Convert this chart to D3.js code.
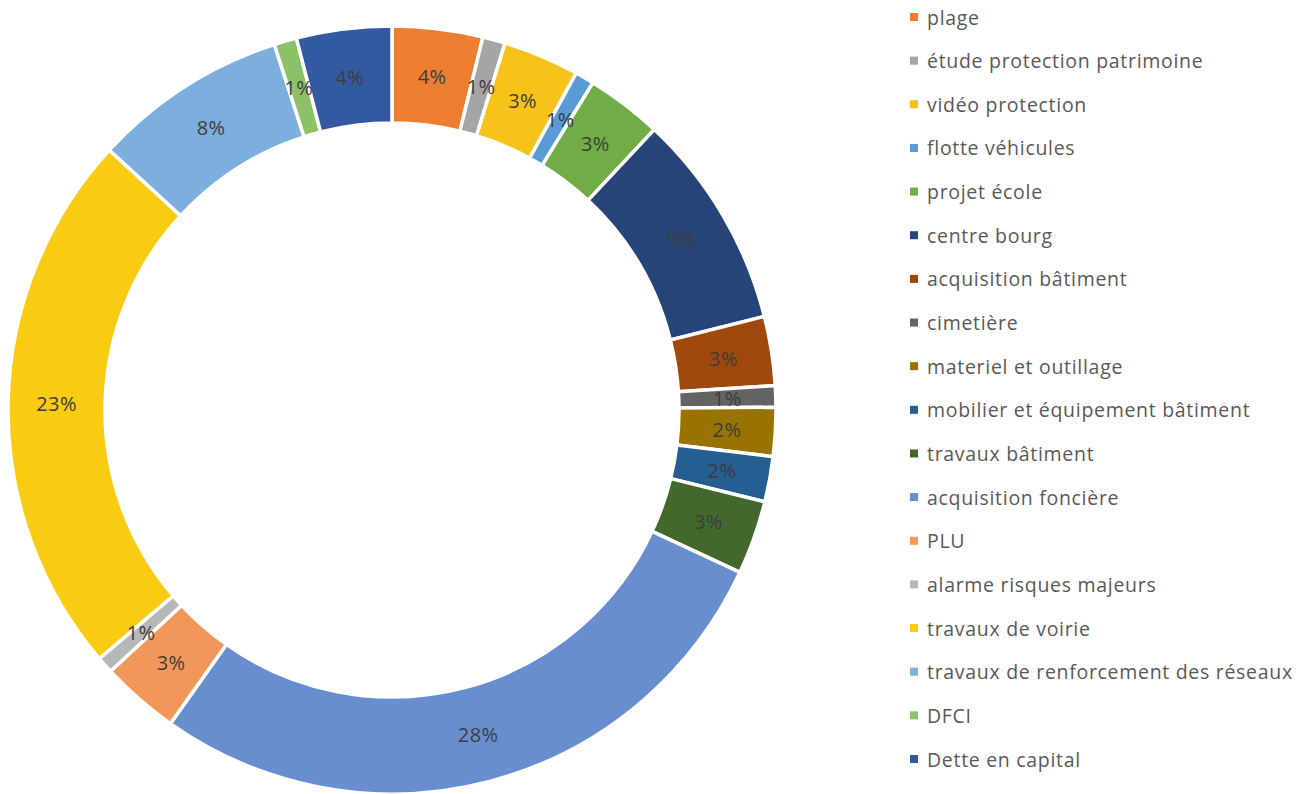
<!DOCTYPE html>
<html>
<head>
<meta charset="utf-8">
<script src="https://cdn.jsdelivr.net/npm/d3@7"></script>
<style>
  body { margin: 0; background: #fff; }
  svg { display: block; font-family: "Open Sans", "Liberation Sans", sans-serif; }
</style>
</head>
<body>
<svg id="chart" width="1302" height="794"></svg>
<script>
// categories, clockwise from 12 o'clock
const categories = [
  "plage", "étude protection patrimoine", "vidéo protection", "flotte véhicules",
  "projet école", "centre bourg", "acquisition bâtiment", "cimetière",
  "materiel et outillage", "mobilier et équipement bâtiment", "travaux bâtiment",
  "acquisition foncière", "PLU", "alarme risques majeurs", "travaux de voirie",
  "travaux de renforcement des réseaux", "DFCI", "Dette en capital"
];
// shares in percent, read from the ring
const values = [3.8, 0.95, 3.2, 0.8, 3.2, 9.1, 2.9, 0.9, 2.05, 1.9, 3.1, 27.8, 3.3, 0.7, 23.0, 8.2, 0.95, 4.0];
// labels as printed on the slices
const labels = ["4%", "1%", "3%", "1%", "3%", "9%", "3%", "1%", "2%", "2%", "3%", "28%", "3%", "1%", "23%", "8%", "1%", "4%"];
const colors = [
  "#ed7d31", "#a5a5a5", "#f7c31a", "#5b9bd5", "#70ad47", "#264478", "#9e480e", "#636363",
  "#997300", "#255e91", "#43682b", "#698ed0", "#f1975a", "#b7b7b7", "#f9cb12", "#7cafdd",
  "#8cc168", "#335aa1"
];

const svg = d3.select('#chart');

const cx = 392, cy = 410;
const outerR = 384, innerR = 287;

const color = d3.scaleOrdinal().domain(categories).range(colors);

const pie = d3.pie().sort(null).value(d => d.value);
const data = categories.map((c, i) => ({ name: c, value: values[i], label: labels[i] }));
const arcs = pie(data);

const arc = d3.arc().innerRadius(innerR).outerRadius(outerR);
const labelArc = d3.arc().innerRadius((innerR + outerR) / 2).outerRadius((innerR + outerR) / 2);

const g = svg.append('g').attr('transform', `translate(${cx},${cy})`);

g.selectAll('path').data(arcs)
  .enter().append('path')
  .attr('d', arc)
  .attr('fill', d => color(d.data.name))
  .attr('stroke', '#fff')
  .attr('stroke-width', 3.5);

g.selectAll('text').data(arcs)
  .enter().append('text')
  .attr('transform', d => `translate(${labelArc.centroid(d)})`)
  .attr('text-anchor', 'middle')
  .attr('dominant-baseline', 'central')
  .attr('font-size', 20)
  .attr('letter-spacing', 0.4)
  .attr('fill', '#3d3d3d')
  .text(d => d.data.label);

// legend
const legendY = d3.scalePoint().domain(categories).range([17, 759]);

const legend = svg.append('g');
const items = legend.selectAll('g').data(categories)
  .enter().append('g')
  .attr('transform', d => `translate(910,${legendY(d)})`);

items.append('rect')
  .attr('x', 0).attr('y', -4)
  .attr('width', 8).attr('height', 8)
  .attr('fill', d => color(d));

items.append('text')
  .attr('x', 17)
  .attr('dominant-baseline', 'central')
  .attr('font-size', 19.5)
  .attr('letter-spacing', 0.7)
  .attr('fill', '#595959')
  .text(d => d);
</script>
</body>
</html>
